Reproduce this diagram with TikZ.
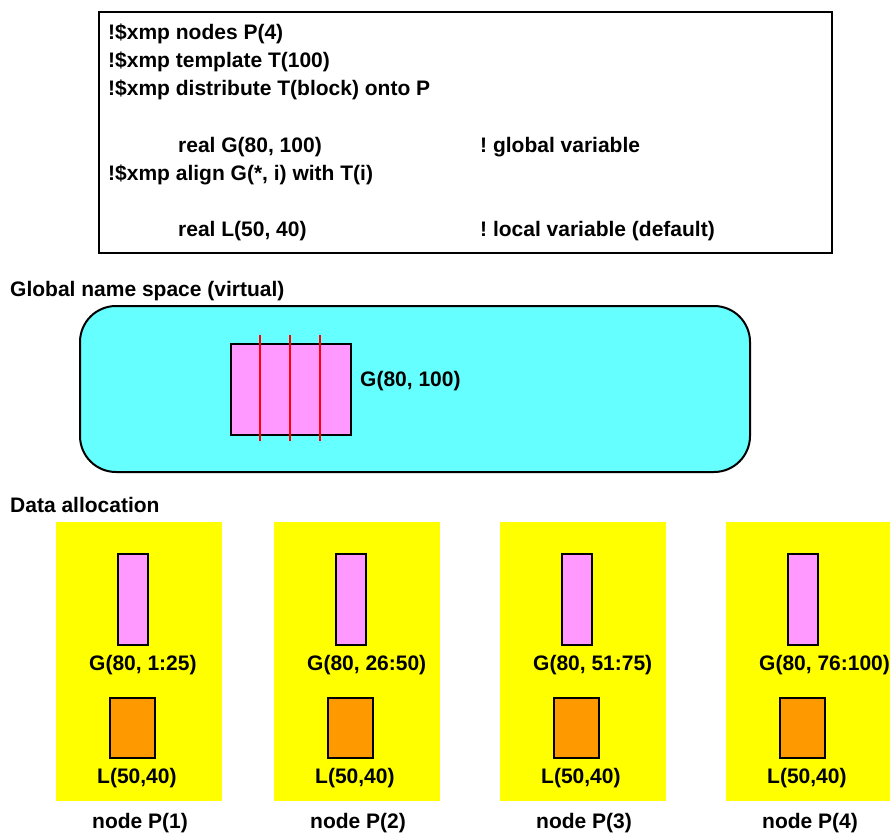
\documentclass[tikz,border=0pt]{standalone}
\usepackage{fontspec}
\setmainfont{Liberation Sans}
\usepackage{tikz}
\usetikzlibrary{positioning}
\definecolor{aqua}{RGB}{102, 255, 255}
\definecolor{violet}{RGB}{255, 153, 255}
\definecolor{lemon}{RGB}{255, 255, 0}
\definecolor{amber}{RGB}{255, 153, 0}
\tikzstyle{label} = [inner sep=0pt, anchor=base west, text=black, font=\fontsize{21}{26}\selectfont\bfseries\frenchspacing]
\tikzstyle{codebox} = [draw=black, line width=2pt, fill=white, anchor=north west, minimum width=733pt, minimum height=241pt]
\tikzstyle{space} = [draw=black, line width=2pt, fill=aqua, rounded corners=36pt, anchor=north west, minimum width=670pt, minimum height=166pt]
\tikzstyle{garray} = [draw=black, line width=1.5pt, fill=violet, anchor=north west, inner sep=0pt]
\tikzstyle{larray} = [draw=black, line width=1.5pt, fill=amber, anchor=north west, inner sep=0pt, minimum width=45pt, minimum height=60pt]
\tikzstyle{pnode} = [fill=lemon, anchor=north west, inner sep=0pt, minimum width=166pt, minimum height=279pt]
\tikzstyle{cut} = [draw=red, line width=1.5pt]

\begin{document}
\begin{tikzpicture}[x=1pt, y=-1pt]
\clip (0,0) rectangle (890,834);

% program =============================
\node[codebox] (code) at (98,11) {};
\node[label] (l1) at (108,39.5) {!\$xmp nodes P(4)};
\node[label] (l2) at (108,67.5) {!\$xmp template T(100)};
\node[label] (l3) at (108,95.5) {!\$xmp distribute T(block) onto P};
\node[label] (l4) at (178,152.5) {real G(80, 100)};
\node[label] (c4) at (480,152.5) {! global variable};
\node[label] (l5) at (108,180.5) {!\$xmp align G(*, i) with T(i)};
\node[label] (l6) at (178,236) {real L(50, 40)};
\node[label] (c6) at (480,236) {! local variable (default)};

% global name space =============================
\node[label] (gtitle) at (10,296) {Global name space (virtual)};
\node[space] (gns) at (79,305) {};
\node[garray, minimum width=120pt, minimum height=91pt] (G) at (230,343) {};
\foreach \x in {260, 290, 320}
  \draw[cut] (\x,335) -- (\x,441);
\node[label] (gname) at (360,386) {G(80, 100)};

% data allocation =============================
\node[label] (dtitle) at (10,512) {Data allocation};
\foreach \i/\x/\r in {1/56/{1:25}, 2/274/{26:50}, 3/500/{51:75}, 4/726/{76:100}} {
  \node[pnode] (P\i) at (\x,522) {};
  \node[garray, minimum width=30pt, minimum height=91pt] (g\i) at (\x+61,553) {};
  \node[label] (gl\i) at (\x+33,670) {G(80, \r)};
  \node[larray] (L\i) at (\x+53,697) {};
  \node[label] (ll\i) at (\x+41,783) {L(50,40)};
  \node[label] (pl\i) at (\x+36,828) {node P(\i)};
}

\end{tikzpicture}
\end{document}
